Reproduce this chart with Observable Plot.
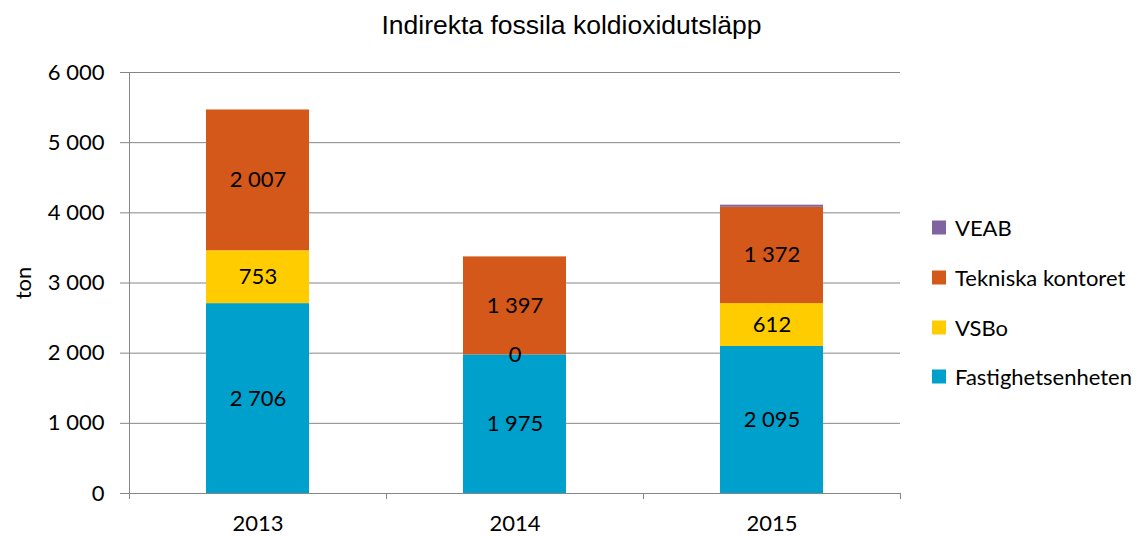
<!DOCTYPE html>
<html>
<head>
<meta charset="utf-8">
<script src="https://cdn.jsdelivr.net/npm/d3@7"></script>
<script src="https://cdn.jsdelivr.net/npm/@observablehq/plot@0.6"></script>
<style>
  body { margin: 0; background: white; }
  #wrap { position: relative; width: 1137px; height: 537px; overflow: hidden; }
  #title { position: absolute; top: 10px; left: 0; width: 1143px; text-align: center;
           font-family: "Liberation Sans", Arial, sans-serif; font-size: 26.5px; color: #000; }
  #ylabel { position: absolute; left: 22px; top: 283px; transform: translate(-50%, -50%) rotate(-90deg);
            font-family: Lato, sans-serif; font-size: 22px; color: #000; }
  #legend { position: absolute; left: 932px; top: 0; font-family: Lato, sans-serif; font-size: 22px; color: #000; }
  .item { position: absolute; left: 0; display: flex; align-items: center; white-space: nowrap; transform: translateY(-50%); }
  .sw { width: 14px; height: 14px; margin-right: 9px; }
</style>
</head>
<body>
<div id="wrap">
  <div id="chart"></div>
  <div id="title">Indirekta fossila koldioxidutsläpp</div>
  <div id="ylabel">ton</div>
  <div id="legend"></div>
</div>
<script>
const years = ["2013", "2014", "2015"];
const seriesNames = ["Fastighetsenheten", "VSBo", "Tekniska kontoret", "VEAB"];
const fastighetsenheten = [2706, 1975, 2095];
const vsbo = [753, 0, 612];
const tekniskaKontoret = [2007, 1397, 1372];
const veab = [0, 0, 30];
const yTicks = [0, 1000, 2000, 3000, 4000, 5000, 6000];
const colors = ["#00A0CC", "#FFCC00", "#D3581A", "#8064A2"];
const legendOrder = ["VEAB", "Tekniska kontoret", "VSBo", "Fastighetsenheten"];

const seriesValues = [fastighetsenheten, vsbo, tekniskaKontoret, veab];
const rows = years.flatMap((year, i) =>
  seriesNames.map((s, j) => ({year, series: s, value: seriesValues[j][i]})));

const fmt = d => d3.format(",")(d).replace(/,/g, "\u00a0");
const gray = "#868686";
const step = (1137 - 129 - 237) / years.length;

const chart = Plot.plot({
  width: 1137,
  height: 537,
  marginLeft: 129,
  marginRight: 237,
  marginTop: 72,
  marginBottom: 44,
  style: {fontFamily: "Lato, sans-serif", fontSize: "22px", color: "#000", background: "white"},
  x: {domain: years, paddingInner: 0.6, paddingOuter: 0.3, axis: null},
  y: {domain: [0, 6000], axis: null},
  color: {domain: seriesNames, range: colors},
  marks: [
    Plot.ruleY(yTicks, {stroke: gray, strokeWidth: 1}),
    Plot.barY(rows, Plot.stackY({x: "year", y: "value", fill: "series"})),
    Plot.text(rows, Plot.stackY({
      x: "year", y: "value", z: "series",
      text: d => d.series === "VEAB" ? "" : fmt(d.value),
      fill: "#000", fontSize: 22
    })),
    Plot.axisY({ticks: yTicks, tickFormat: fmt, tickSize: 9, tickPadding: 16, stroke: gray, fill: "#000", label: null, fontSize: 22}),
    Plot.axisX({tickSize: 0, tickPadding: 22, fill: "#000", label: null, fontSize: 22}),
    Plot.axisX({tickSize: 6, text: null, stroke: gray, dx: -step / 2, label: null}),
    Plot.axisX(["2015"], {tickSize: 6, text: null, stroke: gray, dx: step / 2, label: null}),
    Plot.ruleX(["2013"], {y1: 0, y2: 6000, stroke: gray, dx: -step / 2})
  ]
});
document.getElementById("chart").appendChild(chart);

const legend = document.getElementById("legend");
const legendY = [227, 277, 327, 376];
legendOrder.forEach((name, i) => {
  const item = document.createElement("div");
  item.className = "item";
  item.style.top = legendY[i] + "px";
  const sw = document.createElement("div");
  sw.className = "sw";
  sw.style.background = colors[seriesNames.indexOf(name)];
  const label = document.createElement("span");
  label.textContent = name;
  item.appendChild(sw);
  item.appendChild(label);
  legend.appendChild(item);
});
</script>
</body>
</html>
